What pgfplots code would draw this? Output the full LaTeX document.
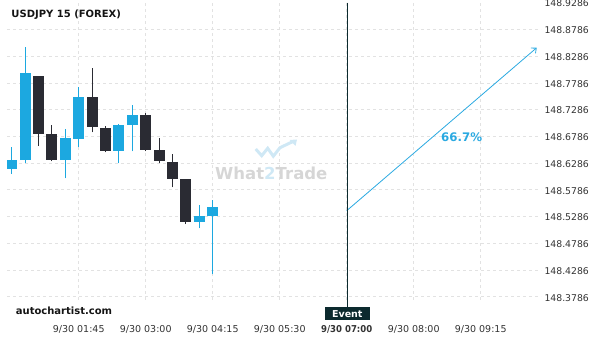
\documentclass[border=0pt]{standalone}
\usepackage{fontspec}
\setmainfont{DejaVu Sans}
\newfontfamily\condfont{DejaVu Sans Condensed}
\usepackage{pgfplots}
\pgfplotsset{compat=1.18}
\usetikzlibrary{arrows.meta}
\definecolor{cblue}{HTML}{1CA8E0}
\definecolor{cdark}{HTML}{2A2B33}
\definecolor{gridc}{HTML}{E2E2E2}
\definecolor{evc}{HTML}{0C2A2E}
\definecolor{arrc}{HTML}{2AA9E1}
\definecolor{wmgray}{HTML}{D6D6D6}
\definecolor{wmblue}{HTML}{CFE8F5}
\definecolor{labc}{HTML}{333333}
% index, open, high, low, close, colour
\newcommand{\candle}[6]{%
  \addplot[draw=#6, line width=1.1bp, forget plot] coordinates {(#1,#4) (#1,#3)};
  \addplot[draw=#6, line width=11bp, forget plot] coordinates {(#1,#2) (#1,#5)};
}
\begin{document}
\begin{tikzpicture}
\useasboundingbox (-7bp,-40bp) rectangle (593bp,300bp);
\begin{axis}[
  at={(0,0)}, anchor=south west,
  scale only axis, width=534bp, height=297.6bp,
  xmin=-0.351, xmax=39.5, ymin=148.3724, ymax=148.9290,
  axis line style={draw=none},
  tick style={draw=none}, major tick length=0pt,
  xtick={5,10,...,35},
  xticklabels={9/30 01:45,9/30 03:00,9/30 04:15,9/30 05:30,{\condfont\bfseries 9/30 07:00},9/30 08:00,9/30 09:15},
  xticklabel style={anchor=base, yshift=-32.5bp, inner sep=0pt, text=labc, font=\fontsize{9.5bp}{11bp}\selectfont},
  ytick={148.3786,148.4286,148.4786,148.5286,148.5786,148.6286,148.6786,148.7286,148.7786,148.8286,148.8786},
  yticklabels={148.3786,148.4286,148.4786,148.5286,148.5786,148.6286,148.6786,148.7286,148.7786,148.8286,148.8786},
  extra y ticks={148.9286}, extra y tick labels={148.9286},
  extra y tick style={grid=none},
  yticklabel pos=right,
  yticklabel style={anchor=west, xshift=0bp, yshift=-1bp, text=labc, font=\fontsize{9.3bp}{11bp}\selectfont},
  xmajorgrids, ymajorgrids,
  major grid style={draw=gridc, line width=0.6bp, dash pattern=on 3bp off 3bp},
]
\candle{0}{148.6179}{148.6585}{148.6080}{148.6342}{cblue}
\candle{1}{148.6342}{148.8449}{148.6280}{148.7974}{cblue}
\candle{2}{148.7913}{148.7913}{148.6604}{148.6828}{cdark}
\candle{3}{148.6828}{148.6991}{148.6318}{148.6342}{cdark}
\candle{4}{148.6342}{148.6916}{148.6000}{148.6753}{cblue}
\candle{5}{148.6740}{148.7701}{148.6585}{148.7520}{cblue}
\candle{6}{148.7520}{148.8062}{148.6860}{148.6965}{cdark}
\candle{7}{148.6940}{148.6978}{148.6486}{148.6516}{cdark}
\candle{8}{148.6516}{148.7015}{148.6280}{148.6997}{cblue}
\candle{9}{148.7002}{148.7365}{148.6505}{148.7184}{cblue}
\candle{10}{148.7184}{148.7215}{148.6505}{148.6529}{cdark}
\candle{11}{148.6529}{148.6748}{148.6280}{148.6329}{cdark}
\candle{12}{148.6305}{148.6449}{148.5832}{148.5992}{cdark}
\candle{13}{148.5987}{148.5995}{148.5145}{148.5188}{cdark}
\candle{14}{148.5188}{148.5501}{148.5065}{148.5295}{cblue}
\candle{15}{148.5301}{148.5594}{148.4205}{148.5463}{cblue}
\addplot[draw=arrc, line width=0.8bp, -{Straight Barb[length=4bp,width=7bp]}] coordinates {(25,148.5394) (39.18,148.8442)};
\node[text=arrc, font=\bfseries\fontsize{11.8bp}{13bp}\selectfont] at (axis cs:33.58,148.6778) {66.7\%};
\end{axis}
\begin{scope}[x=1bp, y=-1bp, shift={(-7bp,300bp)}]
  % watermark
  \draw[wmblue, line width=3bp, line join=miter] (255.7,149) -- (261.7,155.7) -- (267.7,148.3) -- (273.3,156.2) -- (280,147.7) -- (293,141.5);
  \fill[wmblue] (297,139.5) -- (289.5,140) -- (295.5,146) -- cycle;
  \node[text=wmgray, font=\bfseries\fontsize{16.5bp}{18bp}\selectfont, inner sep=0pt] at (271.3,173.3) {What\textcolor{wmblue}{2}Trade};
  % event
  \draw[evc, line width=1bp] (347.3,2.7) -- (347.3,307.5);
  \fill[evc] (325,307) rectangle (369.5,320.3);
  \node[text=white, font=\bfseries\fontsize{9.5bp}{11bp}\selectfont, inner sep=0pt] at (347.3,313.7) {Event};
  % texts
  \node[anchor=base west, inner sep=0pt, text=black!92, font=\bfseries\fontsize{10bp}{12bp}\selectfont] at (11.3,17.6) {USDJPY 15 (FOREX)};
  \node[anchor=base west, inner sep=0pt, text=black!92, font=\bfseries\fontsize{10bp}{12bp}\selectfont] at (15.7,314.5) {autochartist.com};
\end{scope}
\end{tikzpicture}
\end{document}
